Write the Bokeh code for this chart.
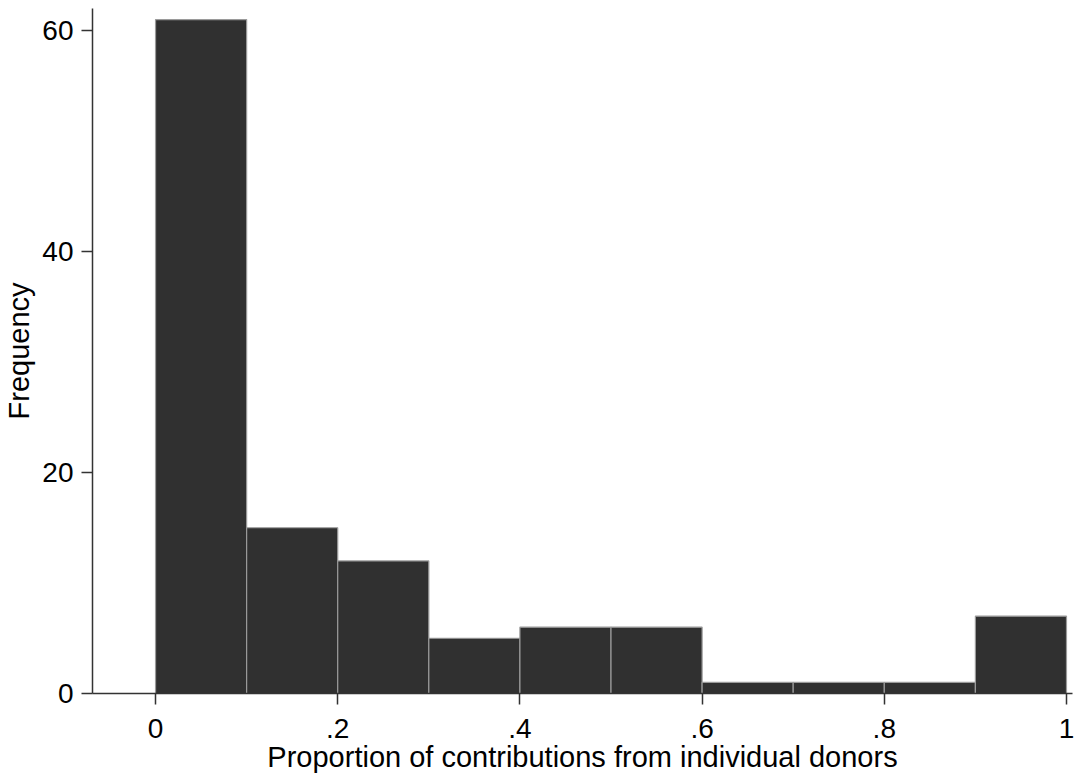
from bokeh.plotting import figure
from bokeh.models import Range1d, FixedTicker, CustomJSTickFormatter
from bokeh.embed import file_html
from bokeh.resources import INLINE

# Histogram of the share of contributions coming from individual donors
bin_edges = [0.0, 0.1, 0.2, 0.3, 0.4, 0.5, 0.6, 0.7, 0.8, 0.9, 1.0]
counts = [61, 15, 12, 5, 6, 6, 1, 1, 1, 7]
x_ticks = [0, 0.2, 0.4, 0.6, 0.8, 1.0]
y_ticks = [0, 20, 40, 60]

FONT = "Liberation Sans"
INK = "#333333"

p = figure(
    width=1086, height=778,
    output_backend="svg", toolbar_location=None,
    x_range=Range1d(-0.0692, 1.0066), y_range=Range1d(0, 62.0),
    min_border_left=92, min_border_right=14,
    min_border_top=8, min_border_bottom=85,
)

p.quad(left=bin_edges[:-1], right=bin_edges[1:], bottom=0, top=counts,
       fill_color="#303030", line_color="#9a9a9a", line_width=1.2)

p.xgrid.visible = False
p.ygrid.visible = False
p.outline_line_color = None
p.background_fill_color = "white"
p.border_fill_color = "white"

p.xaxis.ticker = FixedTicker(ticks=x_ticks)
p.yaxis.ticker = FixedTicker(ticks=y_ticks)
p.xaxis.formatter = CustomJSTickFormatter(code="""
    if (tick == 0) return "0";
    if (Math.abs(tick - 1) < 1e-9) return "1";
    return tick.toFixed(1).replace(/^0/, "");
""")

p.xaxis.axis_label = "Proportion of contributions from individual donors"
p.yaxis.axis_label = "Frequency"

for ax in (p.xaxis, p.yaxis):
    ax.axis_line_color = INK
    ax.axis_line_width = 1.5
    ax.major_tick_line_color = INK
    ax.major_tick_line_width = 1.5
    ax.major_tick_out = 11
    ax.major_tick_in = 0
    ax.minor_tick_line_color = None
    ax.major_label_text_font = FONT
    ax.major_label_text_font_size = "28px"
    ax.major_label_text_color = "black"
    ax.axis_label_text_font = FONT
    ax.axis_label_text_font_size = "29px"
    ax.axis_label_text_font_style = "normal"
    ax.axis_label_text_color = "black"

p.xaxis.major_label_standoff = 14
p.yaxis.major_label_standoff = 8
p.xaxis.axis_label_standoff = 0
p.yaxis.axis_label_standoff = 4

open("out.html", "w").write(file_html(p, INLINE))
